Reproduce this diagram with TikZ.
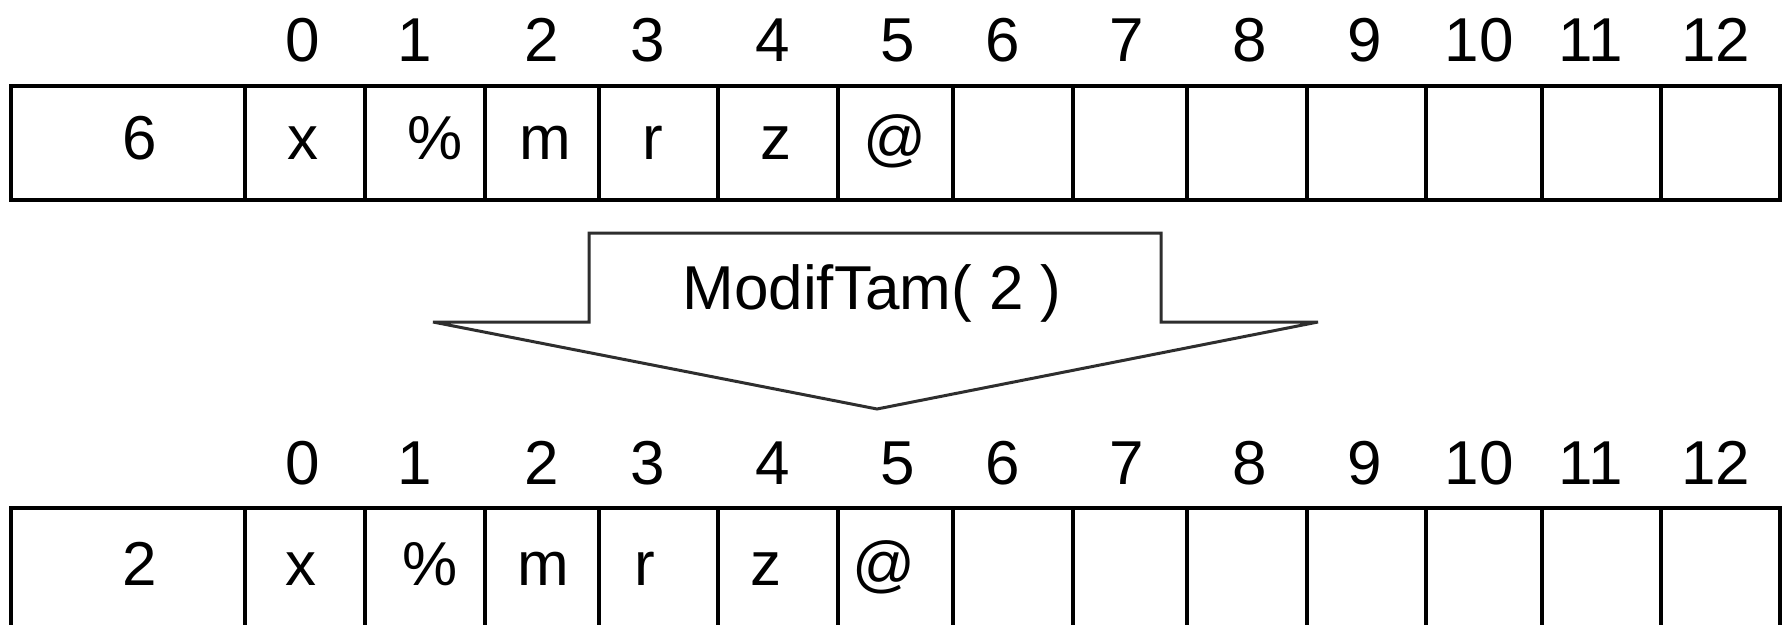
\documentclass[tikz,border=0pt]{standalone}
\usepackage{fontspec}
\setmainfont{Liberation Sans}
\begin{document}
\begin{tikzpicture}[x=1pt,y=-1pt,
  cellbox/.style={draw=black, line width=4pt, inner sep=0pt, outer sep=0pt},
  txt/.style={font=\fontsize{62}{62}\selectfont, inner sep=0pt, anchor=base},
  arrowline/.style={draw=black!82, line width=3pt, line join=miter, fill=white}]
\useasboundingbox (0,0) rectangle (1782,624);
\clip (0,0) rectangle (1782,624);
% cells of both rows
\foreach \a/\b/\n in {11/245/0,245/365/1,365/485/2,485/599/3,599/718/4,718/838/5,838/953/6,953/1073/7,1073/1187/8,1187/1307/9,1307/1426/10,1426/1542/11,1542/1661/12,1661/1780/13}{
  \node[cellbox, minimum width={\b-\a}, minimum height=113.5] (t\n) at ({(\a+\b)/2},142.75) {};
  \node[cellbox, minimum width={\b-\a}, minimum height=120] (b\n) at ({(\a+\b)/2},568) {};
}
% index labels
\foreach \i/\d [evaluate=\i as \j using int(\i+1)] in {0/-2,1/-10,2/0,3/-11,4/-5,5/2,6/-10,7/-3,8/3,9/-2,10/-5,11/-11,12/-5}{
  \node[txt, xshift=\d] (ti\i) at (t\j.center |- 0,61) {\i};
  \node[txt, xshift=\d] (bi\i) at (b\j.center |- 0,484) {\i};
}
% top row contents
\node[txt] (tv0) at (140,159) {6};
\node[txt] (tv1) at (303,159) {x};
\node[txt] (tv2) at (435,159) {\%};
\node[txt] (tv3) at (545,159) {m};
\node[txt] (tv4) at (653,159) {r};
\node[txt] (tv5) at (776,159) {z};
\node[txt] (tv6) at (895,159) {@};
% bottom row contents
\node[txt] (bv0) at (140,585) {2};
\node[txt] (bv1) at (301,585) {x};
\node[txt] (bv2) at (430,585) {\%};
\node[txt] (bv3) at (543,585) {m};
\node[txt] (bv4) at (645,585) {r};
\node[txt] (bv5) at (766,585) {z};
\node[txt] (bv6) at (884,585) {@};
% block arrow
\draw[arrowline] (433,322) -- (589,322) -- (589,233) -- (1161,233) -- (1161,322) -- (1318,322) -- (877,409) -- cycle;
\node[txt] (op) at (872,309) {ModifTam( 2 )};
\end{tikzpicture}
\end{document}
